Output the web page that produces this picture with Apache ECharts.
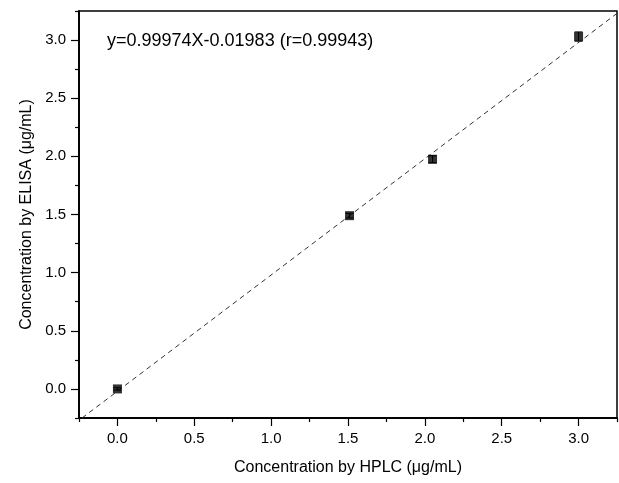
<!DOCTYPE html>
<html>
<head>
<meta charset="utf-8">
<title>ELISA vs HPLC</title>
<style>
  html, body { margin: 0; padding: 0; background: #fff; }
  #chart { width: 619px; height: 483px; }
</style>
</head>
<body>
<div id="chart"></div>
<script src="https://cdn.jsdelivr.net/npm/echarts@6/dist/echarts.min.js"></script>
<script>
// measured points (HPLC, ELISA) and their error bars
var hplc = [0.0, 1.51, 2.05, 3.0];
var elisa = [0.0, 1.49, 1.975, 3.03];
var errs = [0.01, 0.02, 0.03, 0.04];

// fit from the figure text
var slope = 0.99974;
var intercept = -0.01983;
var fitLabel = 'y=0.99974X-0.01983 (r=0.99943)';

var majorTicks = [0.0, 0.5, 1.0, 1.5, 2.0, 2.5, 3.0];
var minorTicks = [-0.25, 0.25, 0.75, 1.25, 1.75, 2.25, 2.75, 3.25];

var axMin = -0.25, axMax = 3.25;

var pts = [];
for (var i = 0; i < hplc.length; i++) pts.push([hplc[i], elisa[i]]);

// dashed fit line, clipped to the plot box
var x0 = (axMin - intercept) / slope;
var fitLine = [[x0, axMin], [axMax, slope * axMax + intercept]];

var font = '"Liberation Sans", Arial, sans-serif';

function mkAxis(type, ticks, withLabels, len) {
  return {
    type: 'value',
    min: axMin, max: axMax,
    position: type === 'x' ? 'bottom' : 'left',
    splitLine: { show: false },
    axisLine: { show: true, onZero: false, lineStyle: { color: '#000', width: 1.5 } },
    axisTick: { show: true, inside: false, length: len, customValues: ticks, lineStyle: { color: '#000', width: 1.2 } },
    axisLabel: {
      show: withLabels, customValues: ticks, margin: 13,
      color: '#000', fontSize: 15, fontFamily: font,
      formatter: function (v) { return v.toFixed(1); }
    }
  };
}

var xMain = mkAxis('x', majorTicks, true, 8);
xMain.name = 'Concentration by HPLC (\u03bcg/mL)';
xMain.nameLocation = 'middle';
xMain.nameGap = 42;
xMain.nameTextStyle = { color: '#000', fontSize: 16, fontFamily: font };
var xMinor = mkAxis('x', minorTicks, false, 4);

var yMain = mkAxis('y', majorTicks, true, 8);
yMain.name = 'Concentration by ELISA (\u03bcg/mL)';
yMain.nameLocation = 'middle';
yMain.nameGap = 42;
yMain.nameRotate = 90;
yMain.nameTextStyle = { color: '#000', fontSize: 16, fontFamily: font };
var yMinor = mkAxis('y', minorTicks, false, 4);

var chart = echarts.init(document.getElementById('chart'), null, { renderer: 'canvas' });
chart.setOption({
  animation: false,
  backgroundColor: '#fff',
  grid: { left: 79, right: 2, top: 11, bottom: 65, show: true, borderColor: '#000', borderWidth: 1.5, backgroundColor: 'transparent' },
  xAxis: [xMain, xMinor],
  yAxis: [yMain, yMinor],
  graphic: [{
    type: 'text', left: 107, top: 32,
    style: { text: fitLabel, fill: '#000', font: '18px ' + font }
  }],
  series: [
    {
      type: 'line', data: fitLine, symbol: 'none', silent: true,
      lineStyle: { color: '#333', width: 1, type: [5, 4] }
    },
    {
      type: 'custom',
      data: pts.map(function (p, i) { return [p[0], p[1], errs[i]]; }),
      renderItem: function (params, api) {
        var x = api.value(0), y = api.value(1), e = api.value(2);
        var top = api.coord([x, y + e]);
        var bot = api.coord([x, y - e]);
        var hw = 4;
        return {
          type: 'group',
          children: [
            { type: 'line', shape: { x1: top[0], y1: top[1], x2: bot[0], y2: bot[1] }, style: { stroke: '#000', lineWidth: 1 } },
            { type: 'line', shape: { x1: top[0] - hw, y1: top[1], x2: top[0] + hw, y2: top[1] }, style: { stroke: '#000', lineWidth: 1 } },
            { type: 'line', shape: { x1: bot[0] - hw, y1: bot[1], x2: bot[0] + hw, y2: bot[1] }, style: { stroke: '#000', lineWidth: 1 } }
          ]
        };
      },
      z: 3
    },
    {
      type: 'scatter', data: pts, symbol: 'rect', symbolSize: 9,
      itemStyle: { color: '#000' }, z: 4
    }
  ]
});
</script>
</body>
</html>
